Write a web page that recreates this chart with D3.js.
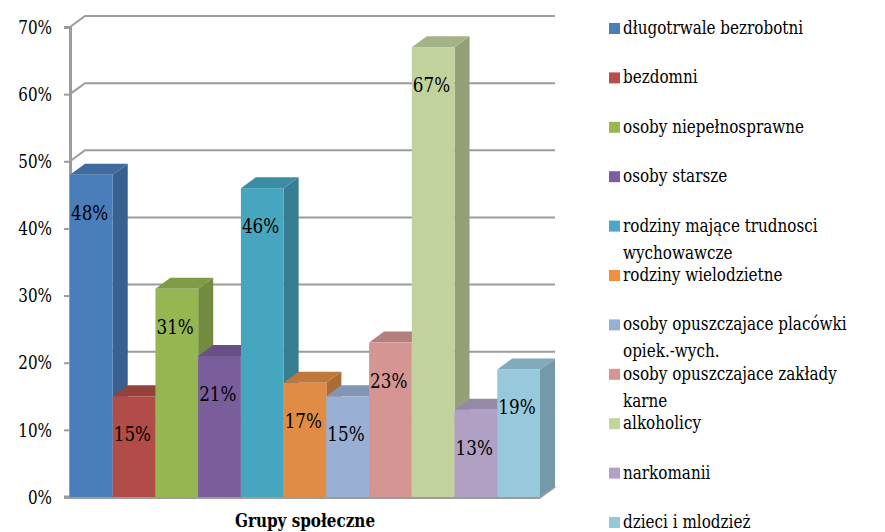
<!DOCTYPE html>
<html>
<head>
<meta charset="utf-8">
<script src="https://cdn.jsdelivr.net/npm/d3@7"></script>
</head>
<body style="margin:0">
<svg id="chart" width="885" height="532"></svg>
<script>
// ---- data ----
const categories = [
  "długotrwale bezrobotni",
  "bezdomni",
  "osoby niepełnosprawne",
  "osoby starsze",
  "rodziny mające trudnosci wychowawcze",
  "rodziny wielodzietne",
  "osoby opuszczajace placówki opiek.-wych.",
  "osoby opuszczajace zakłady karne",
  "alkoholicy",
  "narkomanii",
  "dzieci i mlodzież"
];
const values = [0.48, 0.15, 0.31, 0.21, 0.46, 0.17, 0.15, 0.23, 0.67, 0.13, 0.19];
const legendLines = [
  ["długotrwale bezrobotni"],
  ["bezdomni"],
  ["osoby niepełnosprawne"],
  ["osoby starsze"],
  ["rodziny mające trudnosci", "wychowawcze"],
  ["rodziny wielodzietne"],
  ["osoby opuszczajace placówki", "opiek.-wych."],
  ["osoby opuszczajace zakłady", "karne"],
  ["alkoholicy"],
  ["narkomanii"],
  ["dzieci i mlodzież"]
];
const yTicks = [0, 0.1, 0.2, 0.3, 0.4, 0.5, 0.6, 0.7];
const axisTitle = "Grupy społeczne";

// ---- styles ----
const FONT = '"DejaVu Serif"';
const SX = 0.8; // horizontal squeeze to approximate a Times-like width
const frontColors = ["#4a7ebb","#b14c48","#95b651","#7a5d9b","#47a6bf","#e08c45","#9aafd4","#d59593","#c1d29d","#b0a1c4","#97c8db"];
const legendColors = ["#4a7ebb","#b94d4a","#97b852","#7c5f9e","#4aa9c4","#f0903f","#95b0d6","#d79492","#c2d59c","#b1a1c6","#93cadb"];

function placeText(sel, px, py, size, weight) {
  sel.attr("x", 0).attr("y", 0)
     .attr("transform", `translate(${px},${py}) scale(${SX},1)`)
     .attr("font-family", FONT).attr("font-size", size).attr("fill", "#000");
  if (weight) sel.attr("font-weight", weight);
  return sel;
}

const svg = d3.select("#chart");
const pLeft = 70, pRight = 540, pTop = 27, pBottom = 497;
const dx = 15, dy = -11;

const x = d3.scaleBand().domain(categories).range([pLeft, pRight]).padding(0);
const y = d3.scaleLinear().domain([0, 0.7]).range([pBottom, pTop]);
const fmt = d3.format(".0%");

// gridlines (back wall + left side wall)
const grid = svg.append("g");
yTicks.forEach(t => {
  if (t > 0) {
    grid.append("polyline")
      .attr("points", `${pLeft},${y(t)} ${pLeft+dx},${y(t)+dy} ${pRight+dx},${y(t)+dy}`)
      .attr("fill", "none").attr("stroke", "#9c9c9c").attr("stroke-width", 2);
  }
});

// y axis via d3.axisLeft
const yAxis = d3.axisLeft(y).tickValues(yTicks).tickFormat(fmt).tickSize(6).tickPadding(12);
const ag = svg.append("g").attr("transform", `translate(${pLeft},0)`).call(yAxis);
ag.attr("font-family", FONT).attr("font-size", 19);
ag.select(".domain").attr("stroke", "#9c9c9c").attr("stroke-width", 3);
ag.selectAll(".tick line").attr("stroke", "#9c9c9c").attr("stroke-width", 2);
placeText(ag.selectAll(".tick text"), -18, 0, 19).attr("dy", "0.33em");

// floor
svg.append("polyline")
  .attr("points", `${pLeft-6},${pBottom} ${pRight},${pBottom} ${pRight+dx},${pBottom+dy}`)
  .attr("fill", "none").attr("stroke", "#9c9c9c").attr("stroke-width", 3);

// bars
const bars = svg.append("g");
categories.forEach((c, i) => {
  const x0 = x(c), w = x.bandwidth(), yt = y(values[i]), yb = y(0);
  const base = d3.color(frontColors[i]);
  const side = base.darker(0.75);
  const topc = base.darker(0.45);
  const g = bars.append("g");
  g.append("path")
    .attr("d", `M${x0+w},${yt} L${x0+w+dx},${yt+dy} L${x0+w+dx},${yb+dy} L${x0+w},${yb} Z`)
    .attr("fill", side);
  g.append("path")
    .attr("d", `M${x0},${yt} L${x0+dx},${yt+dy} L${x0+w+dx},${yt+dy} L${x0+w},${yt} Z`)
    .attr("fill", topc);
  g.append("rect")
    .attr("x", x0).attr("y", yt).attr("width", w).attr("height", yb - yt)
    .attr("fill", base);
});

// data labels
categories.forEach((c, i) => {
  placeText(svg.append("text"), x(c) + 1, y(values[i]) + 45, 21)
    .text(fmt(values[i]));
});

// floor front line on top of bars
svg.append("line")
  .attr("x1", pLeft-6).attr("x2", pRight).attr("y1", pBottom+1).attr("y2", pBottom+1)
  .attr("stroke", "#9c9c9c").attr("stroke-width", 2);

// axis title
placeText(svg.append("text").attr("text-anchor", "middle"), 305, 527, 19, "bold")
  .text(axisTitle);

// legend
const lg = svg.append("g");
const step = (528 - 34) / (categories.length - 1);
legendLines.forEach((lines, i) => {
  const by = 34 + step * i;
  lg.append("rect").attr("x", 609).attr("y", by - 11).attr("width", 11).attr("height", 11)
    .attr("fill", legendColors[i]);
  lines.forEach((ln, j) => {
    placeText(lg.append("text"), 623, by + j * 27, 19).text(ln);
  });
});
</script>
</body>
</html>
